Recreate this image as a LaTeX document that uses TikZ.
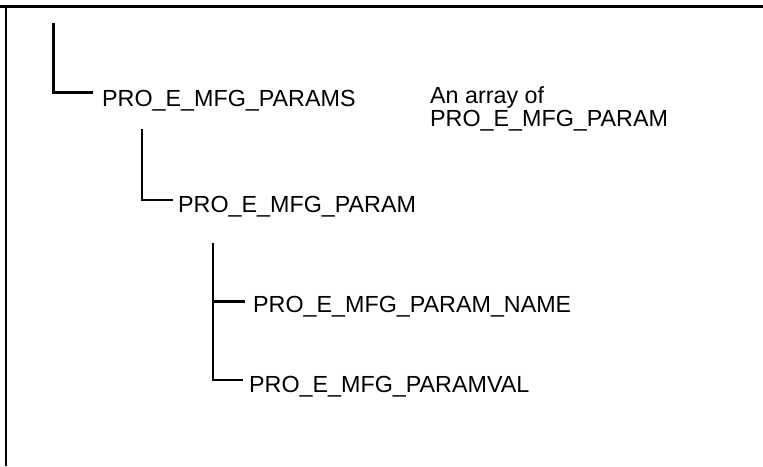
\documentclass[tikz,border=0pt]{standalone}
\usepackage{fontspec}
\setmainfont{Liberation Sans}
\begin{document}
\begin{tikzpicture}[x=1pt,y=-1pt,
  lbl/.style={anchor=base west,inner sep=0pt,font=\fontsize{23.3}{21}\selectfont},
  thick3/.style={line width=3pt},
  thin2/.style={line width=1.6pt},
  frame/.style={line width=2.6pt}]
\useasboundingbox (0,0) rectangle (763,466);
\fill[white] (0,0) rectangle (763,466);
% frame
\coordinate (fl) at (0,6);
\coordinate (fr) at (763,6);
\coordinate (fc) at (6,6);
\coordinate (fb) at (6,466);
\draw[line width=3pt] (fl) -- (fr);
\draw[frame] (fc) -- (fb);
% labels
\node[lbl] (params) at (102,106) {PRO\_E\_MFG\_PARAMS};
\node[lbl,align=left,anchor=base west] (note) at (430,126) {An array of\\PRO\_E\_MFG\_PARAM};
\node[lbl] (param) at (178,212) {PRO\_E\_MFG\_PARAM};
\node[lbl] (pname) at (253,312) {PRO\_E\_MFG\_PARAM\_NAME};
\node[lbl] (pval) at (249,392) {PRO\_E\_MFG\_PARAMVAL};
% connectors
\coordinate (top1) at (53,23);
\coordinate (top2) at (142,129);
\coordinate (top3) at (213,243);
\draw[thick3] (top1) |- ([shift={(-9,-14)}]params.base west);
\draw[thin2] (top2) |- ([shift={(-5,-12)}]param.base west);
\draw[thin2] (top3) |- ([shift={(-6,-12)}]pval.base west);
\draw[thick3] (top3 |- pname.base west) ++(0,-11) coordinate (br1) (br1) -- ([shift={(-8,-11)}]pname.base west);
\end{tikzpicture}
\end{document}
